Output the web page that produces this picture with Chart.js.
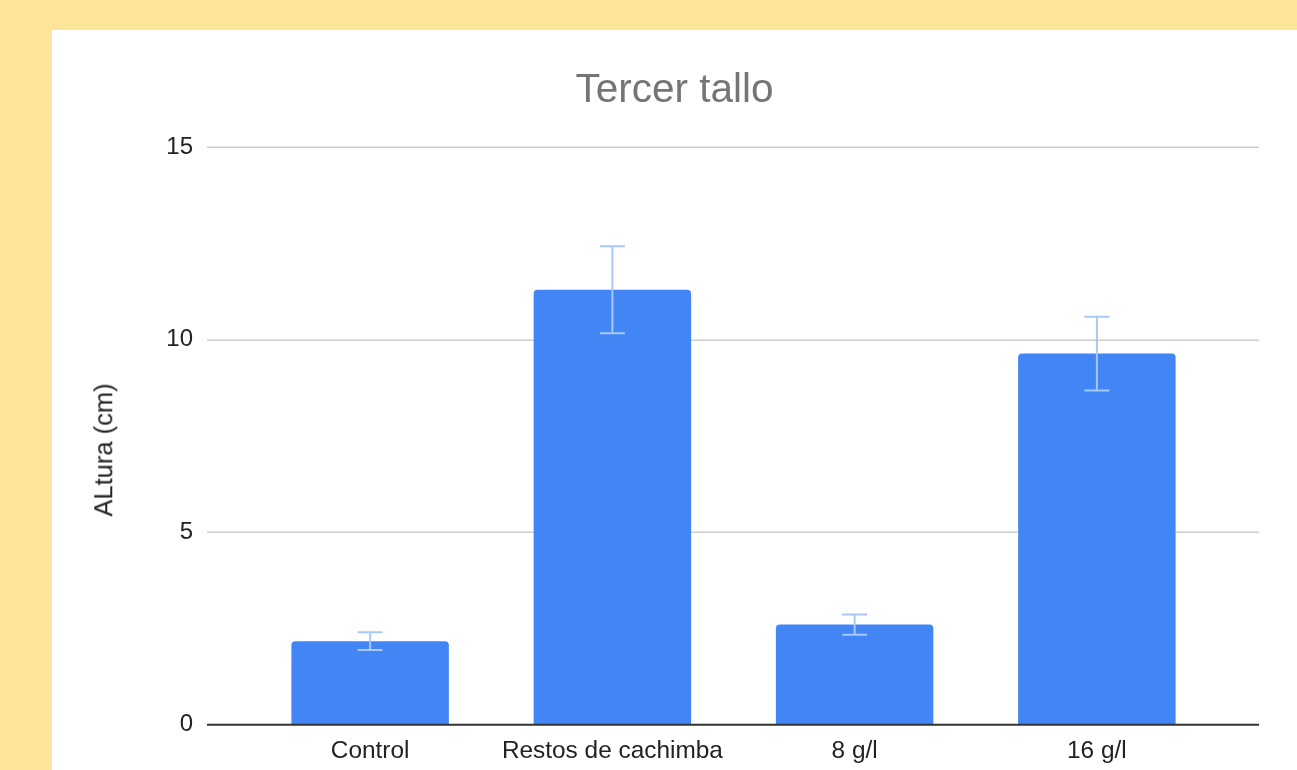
<!DOCTYPE html>
<html>
<head>
<meta charset="utf-8">
<script src="https://cdn.jsdelivr.net/npm/chart.js@4"></script>
<style>
  html, body { margin: 0; padding: 0; }
  body { width: 1297px; height: 770px; background: #ffe599; overflow: hidden; position: relative; font-family: "Liberation Sans", Arial, sans-serif; }
  #panel { position: absolute; left: 52px; top: 30px; width: 1245px; height: 740px; background: #fff; }
  #bar-chart { position: absolute; left: 0; top: 0; }
  #title { position: absolute; left: 0; width: 1245px; top: 37.5px; text-align: center; font-size: 40.5px; line-height: 40.5px; color: #757575; }
  #ytitle { position: absolute; left: 51.5px; top: 420px; width: 0; height: 0; }
  #ytitle span { position: absolute; transform: translate(-50%, -50%) rotate(-90deg); white-space: nowrap; font-size: 25.5px; line-height: 25.5px; color: #222; }
</style>
</head>
<body>
<div id="panel">
  <canvas id="bar-chart" width="1245" height="740"></canvas>
  <div id="title">Tercer tallo</div>
  <div id="ytitle"><span>ALtura (cm)</span></div>
</div>
<script>
const categories = ['Control', 'Restos de cachimba', '8 g/l', '16 g/l'];
const alturas = [2.17, 11.30, 2.60, 9.64];
const errores = [0.23, 1.13, 0.26, 0.96];
const yTicks = [0, 5, 10, 15];

// gridlines wider than the bar area, baseline and error bars
const extrasPlugin = {
    id: 'extras',
    beforeDatasetsDraw(chart) {
        const { ctx, chartArea, scales: { y } } = chart;
        ctx.save();
        ctx.strokeStyle = '#cccccc';
        ctx.lineWidth = 1.5;
        yTicks.filter(v => v !== 0).forEach(v => {
            const py = Math.round(y.getPixelForValue(v)) + 0.25;
            ctx.beginPath();
            ctx.moveTo(chartArea.left - 42, py);
            ctx.lineTo(chartArea.right + 41, py);
            ctx.stroke();
        });
        ctx.restore();
    },
    afterDatasetsDraw(chart) {
        const { ctx, chartArea, scales: { y } } = chart;
        const meta = chart.getDatasetMeta(0);
        ctx.save();
        ctx.strokeStyle = '#a8c7fa';
        ctx.lineWidth = 2;
        meta.data.forEach((bar, i) => {
            const top = y.getPixelForValue(alturas[i] + errores[i]);
            const bot = y.getPixelForValue(alturas[i] - errores[i]);
            ctx.beginPath();
            ctx.moveTo(bar.x, top); ctx.lineTo(bar.x, bot);
            ctx.moveTo(bar.x - 12.5, top); ctx.lineTo(bar.x + 12.5, top);
            ctx.moveTo(bar.x - 12.5, bot); ctx.lineTo(bar.x + 12.5, bot);
            ctx.stroke();
        });
        const py0 = y.getPixelForValue(0);
        ctx.strokeStyle = '#333333';
        ctx.lineWidth = 2;
        ctx.beginPath();
        ctx.moveTo(chartArea.left - 42, py0);
        ctx.lineTo(chartArea.right + 41, py0);
        ctx.stroke();
        ctx.restore();
    }
};

new Chart(document.getElementById('bar-chart'), {
    type: 'bar',
    data: {
        labels: categories,
        datasets: [{
            label: 'ALtura (cm)',
            data: alturas,
            backgroundColor: '#4285f4',
            borderRadius: 4,
            categoryPercentage: 1,
            barPercentage: 0.65
        }]
    },
    options: {
        responsive: false,
        animation: false,
        layout: { padding: { left: 0, right: 79, top: 117.3, bottom: 0 } },
        plugins: { legend: { display: false }, tooltip: { enabled: false }, title: { display: false } },
        scales: {
            x: {
                grid: { display: false, drawTicks: false },
                border: { display: false },
                ticks: { color: '#222', font: { family: 'Liberation Sans', size: 24.4 }, padding: 12, maxRotation: 0 },
                afterFit: s => { s.height = 45.3; }
            },
            y: {
                min: 0, max: 15,
                afterBuildTicks: s => { s.ticks = yTicks.map(v => ({ value: v })); },
                grid: { display: false, drawTicks: false },
                border: { display: false },
                ticks: { color: '#222', font: { family: 'Liberation Sans', size: 24 }, padding: 56 },
                afterFit: s => { s.width = 197; s.paddingTop = 0; s.paddingBottom = 0; }
            }
        }
    },
    plugins: [extrasPlugin]
});
</script>
</body>
</html>
